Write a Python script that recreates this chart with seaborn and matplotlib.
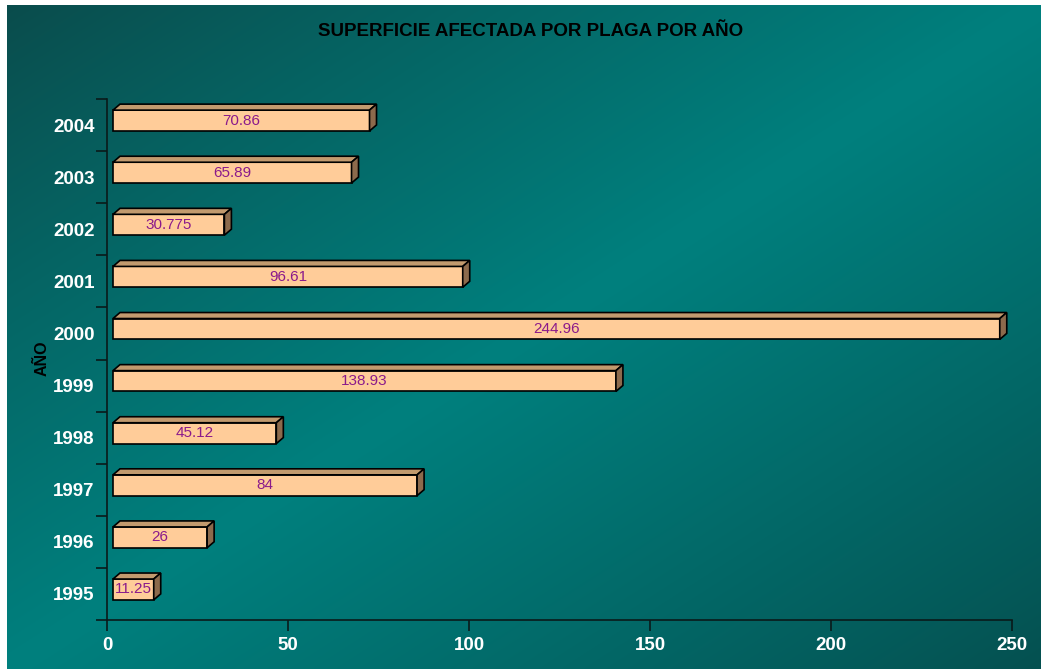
import numpy as np
import matplotlib
matplotlib.use("Agg")
import matplotlib.pyplot as plt
import matplotlib.transforms as mtransforms
from matplotlib.patches import Polygon
import seaborn as sns

# ---- data ----
years = ["1995", "1996", "1997", "1998", "1999", "2000", "2001", "2002", "2003", "2004"]
values = [11.25, 26, 84, 45.12, 138.93, 244.96, 96.61, 30.775, 65.89, 70.86]
labels = ["11.25", "26", "84", "45.12", "138.93", "244.96", "96.61", "30.775", "65.89", "70.86"]
xticks = [0, 50, 100, 150, 200, 250]
title = "SUPERFICIE AFECTADA POR PLAGA POR AÑO"
ylabel = "AÑO"

sns.set_style("white")
plt.rcParams["font.family"] = ["Liberation Sans", "DejaVu Sans"]

W, H, DPI = 1041, 669, 100
fig = plt.figure(figsize=(W / DPI, H / DPI), dpi=DPI)
fig.patch.set_facecolor("white")

# ---- background gradient ----
bg = fig.add_axes([7 / W, 0, 1 - 7 / W, 1 - 5 / H], zorder=-10)
gx = np.linspace(0, 1, 400)
gy = np.linspace(0, 1, 260)
GX, GY = np.meshgrid(gx, gy)
t = (GX + GY) / 2.0
f = 1 - np.abs(2 * t - 1)
f = np.clip(f, 0, 1) ** 0.9
dark_tl = np.array([10, 76, 76]) / 255
dark_br = np.array([5, 80, 80]) / 255
bright = np.array([0, 128, 126]) / 255
dark = np.where((t < 0.5)[..., None], dark_tl, dark_br)
img = dark * (1 - f[..., None]) + bright * f[..., None]
bg.imshow(img, aspect="auto", extent=[0, 1, 1, 0], interpolation="bilinear")
bg.set_axis_off()

# ---- main axes ----
left, right = 107 / W, 1012 / W
bottom, top = (H - 620) / H, (H - 99) / H
ax = fig.add_axes([left, bottom, right - left, top - bottom])
ax.set_facecolor("none")

order = years[::-1]
sns.barplot(x=values, y=years, order=order, orient="h", color="#FFCC99",
            edgecolor="black", linewidth=1.2, width=0.4, saturation=1, ax=ax)

ax.set_xlim(0, 250)
ax.set_ylim(len(years) - 0.5, -0.5)

ax_w_px = (right - left) * W
ax_h_px = (top - bottom) * H
px_x = 250 / ax_w_px
px_y = len(years) / ax_h_px
ddx = 7 * px_x
ddy = 6 * px_y

offset = mtransforms.ScaledTranslation(6 / DPI, 4.5 / DPI, fig.dpi_scale_trans)
trans = ax.transData + offset

val_by_year = dict(zip(years, labels))
for patch, yr in zip(ax.patches, order):
    patch.set_transform(trans)
    x0 = patch.get_x()
    x1 = x0 + patch.get_width()
    y_top = patch.get_y()
    y_bot = y_top + patch.get_height()
    topface = Polygon([(x0, y_top), (x0 + ddx, y_top - ddy), (x1 + ddx, y_top - ddy), (x1, y_top)],
                      closed=True, facecolor="#C29A6E", edgecolor="black", linewidth=1.2,
                      transform=trans, zorder=patch.get_zorder())
    side = Polygon([(x1, y_top), (x1 + ddx, y_top - ddy), (x1 + ddx, y_bot - ddy), (x1, y_bot)],
                   closed=True, facecolor="#8C6A4C", edgecolor="black", linewidth=1.2,
                   transform=trans, zorder=patch.get_zorder())
    ax.add_patch(topface)
    ax.add_patch(side)
    ax.text((x0 + x1) / 2, (y_top + y_bot) / 2, val_by_year[yr], transform=trans,
            ha="center", va="center", fontsize=11, color="#8B1A8B", zorder=5)

# ---- axes styling ----
for s in ["top", "right"]:
    ax.spines[s].set_visible(False)
for s in ["left", "bottom"]:
    ax.spines[s].set_color("#0a1a1a")
    ax.spines[s].set_linewidth(1.2)

ax.set_xticks(xticks)
ax.set_xticklabels([str(v) for v in xticks])
ax.tick_params(axis="x", bottom=True, direction="out", length=8, width=1.2, color="#0a1a1a",
               pad=4, labelsize=13.5, labelcolor="white")
for lab in ax.get_xticklabels():
    lab.set_fontweight("bold")

ax.set_yticks(range(len(order)))
ax.set_yticklabels(order)
ax.set_yticks(np.arange(-0.5, len(order), 1.0), minor=True)
ax.tick_params(axis="y", which="major", left=False, length=0, pad=9, labelsize=13.5,
               labelcolor="white")
ax.tick_params(axis="y", which="minor", left=True, direction="out", length=8, width=1.2,
               color="#0a1a1a")
for lab in ax.get_yticklabels():
    lab.set_fontweight("bold")

ax.set_xlabel("")
ax.set_ylabel("")
fig.text(42 / W, 1 - 358 / H, ylabel, rotation=90, ha="center", va="center",
         fontsize=11.5, fontweight="bold", color="black")
fig.text(531 / W, 1 - 32 / H, title, ha="center", va="center",
         fontsize=13.5, fontweight="bold", color="black")

fig.savefig("out.png", dpi=DPI)
